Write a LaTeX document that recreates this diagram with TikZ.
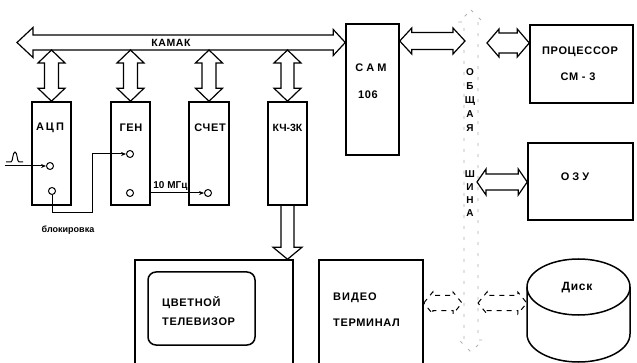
\documentclass[tikz,border=0pt]{standalone}
\usepackage{fontspec}
\setmainfont{Liberation Sans}
\newfontfamily\widefont[LetterSpace=6]{Liberation Sans}
\usetikzlibrary{calc,arrows.meta}
% horizontal hollow double arrow: [style]{left tip}{right tip}{shaft half}{head half}{head length}
\newcommand{\hbiarrow}[6][]{%
 \draw[blockarrow,#1] let \p1=(#2), \p2=(#3) in
  (\x1,\y1) -- (\x1+#6pt,\y1+#5pt) -- (\x1+#6pt,\y1+#4pt) -- (\x2-#6pt,\y1+#4pt) -- (\x2-#6pt,\y1+#5pt) -- (\x2,\y1)
  -- (\x2-#6pt,\y1-#5pt) -- (\x2-#6pt,\y1-#4pt) -- (\x1+#6pt,\y1-#4pt) -- (\x1+#6pt,\y1-#5pt) -- cycle;}
% vertical hollow double arrow: [style]{top tip}{bottom tip}{shaft half}{head half}{head length}
\newcommand{\vbiarrow}[6][]{%
 \draw[blockarrow,#1] let \p1=(#2), \p2=(#3) in
  (\x1,\y1) -- (\x1+#5pt,\y1-#6pt) -- (\x1+#4pt,\y1-#6pt) -- (\x1+#4pt,\y2+#6pt) -- (\x1+#5pt,\y2+#6pt) -- (\x1,\y2)
  -- (\x1-#5pt,\y2+#6pt) -- (\x1-#4pt,\y2+#6pt) -- (\x1-#4pt,\y1-#6pt) -- (\x1-#5pt,\y1-#6pt) -- cycle;}
% vertical hollow single arrow pointing down
\newcommand{\vsarrow}[6][]{%
 \draw[blockarrow,#1] let \p1=(#2), \p2=(#3) in
  (\x1-#4pt,\y1) -- (\x1-#4pt,\y2+#6pt) -- (\x1-#5pt,\y2+#6pt) -- (\x1,\y2) -- (\x1+#5pt,\y2+#6pt) -- (\x1+#4pt,\y2+#6pt) -- (\x1+#4pt,\y1);}
\begin{document}
\begin{tikzpicture}[x=1pt,y=-1pt,
  box/.style={draw,line width=1.5pt,inner sep=0pt},
  blockarrow/.style={draw,line width=1.2pt,line join=miter},
  faint/.style={line width=1pt,dash pattern=on 5pt off 5pt},
  fainter/.style={draw=black!30,line width=0.8pt,dash pattern=on 3pt off 8pt},
  sig/.style={line width=1pt},
  tip/.style={-{Stealth[length=5pt,width=4pt]}},
  port/.style={circle,draw,line width=1pt,inner sep=0pt,minimum size=7pt},
  lbl/.style={font=\widefont\bfseries\fontsize{11}{13}\selectfont,inner sep=0pt},
  small/.style={font=\bfseries\fontsize{10}{12}\selectfont,inner sep=0pt},
  vert/.style={font=\bfseries\fontsize{10}{14}\selectfont,inner sep=0pt,align=center}]
\useasboundingbox (0,0) rectangle (637,363);
\fill[white] (0,0) rectangle (637,363);
\clip (0,0) rectangle (637,363);

% ---- boxes
\node[box,minimum width=39pt,minimum height=103pt] (adc) at (51.5,153.5) {};
\node[box,minimum width=39pt,minimum height=103pt] (gen) at (130.5,153.5) {};
\node[box,minimum width=40pt,minimum height=103pt] (sch) at (209,153.5) {};
\node[box,minimum width=39pt,minimum height=103pt] (kc) at (287.5,153.5) {};
\node[box,minimum width=53pt,minimum height=131pt] (cam) at (372.5,89.5) {};
\node[box,minimum width=103pt,minimum height=78pt] (proc) at (581.5,64) {};
\node[box,minimum width=105pt,minimum height=77pt] (ozu) at (580.5,181.5) {};
\node[box,minimum width=158pt,minimum height=120pt] (tv) at (214,320) {};
\node[box,rounded corners=8pt,minimum width=107pt,minimum height=73pt] (screen) at (201.5,308.5) {};
\node[box,minimum width=104pt,minimum height=120pt] (term) at (371,320) {};
\node[inner sep=0pt,minimum width=103pt,minimum height=104pt] (disk) at (578.5,310.5) {};
\draw[line width=1.5pt] (578.5,287) ellipse [x radius=51.5pt, y radius=28pt];
\draw[line width=1.5pt] (527,287) -- (527,334) arc[start angle=180,end angle=360,x radius=51.5pt,y radius=28pt] -- (630,287);

% ---- coordinates
\coordinate (kamaktip) at (17,42.5);
\coordinate (busb) at (0,50);
\coordinate (camend) at (465,41);
\coordinate (procstart) at (487,43);
\coordinate (ozustart) at (477,182);
\coordinate (bustop) at (471,10);
\coordinate (busbot) at (471,352);
\coordinate (termend) at (462,303);
\coordinate (diskstart) at (478,303);

% ---- KAMAK bus
\draw[blockarrow] let \p1=(kamaktip), \p2=(cam.west |- kamaktip) in
  (\x1,\y1) -- (\x1+16pt,\y1+15pt) -- (\x1+16pt,\y1+7.5pt) -- (\x2-12pt,\y1+7.5pt) -- (\x2-12pt,\y1+13pt) -- (\x2,\y1)
  -- (\x2-12pt,\y1-13pt) -- (\x2-12pt,\y1-7.5pt) -- (\x1+16pt,\y1-7.5pt) -- (\x1+16pt,\y1-15pt) -- cycle;
\node[small,font=\widefont\bfseries\fontsize{10.5}{12}\selectfont] (kamak) at (171,43) {КАМАК};

% ---- module arrows
\vbiarrow{adc.north |- busb}{adc.north}{7}{13.5}{13}
\vbiarrow{gen.north |- busb}{gen.north}{7}{13.5}{13}
\vbiarrow{sch.north |- busb}{sch.north}{7}{13.5}{13}
\vbiarrow{kc.north |- busb}{kc.north}{6.5}{13.5}{13}
\vsarrow{kc.south}{kc.south |- tv.north}{6.5}{14.5}{12}

% ---- common bus
\vbiarrow[fainter]{bustop}{busbot}{7}{12}{12}
\hbiarrow{cam.east |- camend}{camend}{8.5}{13}{12}
\hbiarrow{procstart}{proc.west |- procstart}{10}{14}{12}
\hbiarrow{ozustart}{ozu.west |- ozustart}{8}{13}{9}
\hbiarrow[faint]{term.east |- termend}{termend}{7.5}{11}{9}
\hbiarrow[faint]{diskstart}{disk.west |- diskstart}{7.5}{11}{9}

% ---- signals
\node[port] (pin) at (50,166) {};
\node[port] (pblk) at (52,191) {};
\node[port] (pgen1) at (130,154) {};
\node[port] (pgen2) at (130,193) {};
\node[port] (psch) at (208,193) {};
\coordinate (inp) at (5,166);
\coordinate (blkc) at (92,213);
\draw[sig,tip] (inp) -- (pin);
\draw[sig,tip] (pblk) |- (blkc) |- (pgen1);
\draw[sig,tip] (gen.east |- pgen2) -- (psch) node[small,pos=0.37,above=2pt] (mhz) {10 МГц};
\draw[sig] (6,162) -- (11,162) .. controls (13,162) and (12.5,152) .. (15,152) .. controls (17.5,152) and (17,162) .. (19,162) -- (23,162);
\node[small,font=\bfseries\fontsize{9}{11}\selectfont] (blk) at (68,230) {блокировка};

% ---- labels
\node[lbl] (adcl) at (50,128) {А\hspace{2pt}Ц\hspace{2pt}П};
\node[lbl] (genl) at (131,128) {ГЕН};
\node[lbl] (schl) at (210,128) {СЧЕТ};
\node[lbl,font=\bfseries\fontsize{10.5}{13}\selectfont] (kcl) at (287.5,128) {КЧ-3К};
\node[lbl] (caml) at (371,68) {С\hspace{3pt}А\hspace{3pt}М};
\node[lbl] (cam2) at (368,95) {106};
\node[lbl] (procl) at (580,52) {ПРОЦЕССОР};
\node[lbl] (proc2) at (578,77) {СМ - 3};
\node[lbl] (ozul) at (575,177) {О\hspace{3pt}З\hspace{3pt}У};
\node[lbl,anchor=west] (tv1) at (162,303) {ЦВЕТНОЙ};
\node[lbl,anchor=west] (tv2) at (162,322) {ТЕЛЕВИЗОР};
\node[lbl,anchor=west] (vt1) at (333,298) {В\hspace{1pt}И\hspace{1pt}Д\hspace{1pt}Е\hspace{1pt}О};
\node[lbl,anchor=west] (vt2) at (333,323) {ТЕРМИНАЛ};
\node[lbl,font=\widefont\bfseries\fontsize{12}{14}\selectfont] (diskl) at (577,288) {Диск};
\node[vert] (obsh) at (470,100) {О\\Б\\Щ\\А\\Я};
\node[vert,font=\bfseries\fontsize{10}{13}\selectfont] (shina) at (470,194) {Ш\\И\\Н\\А};
\end{tikzpicture}
\end{document}
